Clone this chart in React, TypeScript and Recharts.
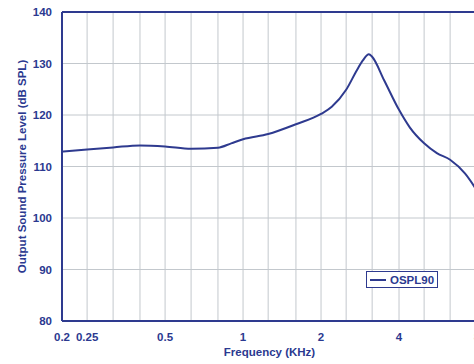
import {
  CartesianGrid,
  Legend,
  Line,
  LineChart,
  ReferenceLine,
  XAxis,
  YAxis,
} from "recharts";

// frequency in kHz
const freqs = [
  0.2, 0.25, 0.315, 0.4, 0.5, 0.63, 0.8, 0.9, 1, 1.25, 1.6, 2, 2.2, 2.5, 2.75,
  2.9, 3.06, 3.15, 3.5, 4, 4.4, 5, 5.6, 6.3, 7.2, 8,
];
// output level, dB SPL
const ospl90 = [
  112.9, 113.3, 113.7, 114.1, 113.9, 113.45, 113.65, 114.5, 115.3, 116.3, 118.2,
  120.2, 121.6, 124.9, 128.7, 130.6, 131.8, 131.3, 126.8, 121.0, 117.6, 114.5,
  112.6, 111.3, 108.6, 105.3,
];

// third-octave grid, only some of them labelled
const gridTicks = [
  0.2, 0.25, 0.315, 0.4, 0.5, 0.63, 0.8, 1, 1.25, 1.6, 2, 2.5, 3.15, 4, 5, 6.3,
  8,
];
const labelledTicks = [0.2, 0.25, 0.5, 1, 2, 4, 8];
const yTicks = [80, 90, 100, 110, 120, 130, 140];

const data = freqs.map((f, i) => ({ f, ospl: ospl90[i] }));

const BLUE = "#2E3A8F";
const TEXT = "#2B3990";
const GRID = "#C3C8CD";
const FONT = "'Liberation Sans', Arial, sans-serif";
const FS = 11.5;

const LegendBox = () => (
  <div
    style={{
      display: "flex",
      alignItems: "center",
      height: "100%",
      boxSizing: "border-box",
      border: `1px solid ${BLUE}`,
      background: "#fff",
      paddingLeft: 3,
      fontFamily: FONT,
      fontWeight: "bold",
      fontSize: FS,
      color: TEXT,
    }}
  >
    <svg width={16} height={4} style={{ marginRight: 4 }}>
      <line x1={0} y1={2} x2={16} y2={2} stroke={BLUE} strokeWidth={2} />
    </svg>
    OSPL90
  </div>
);

export default function App() {
  return (
    <div
      style={{
        position: "fixed",
        left: 0,
        top: 0,
        width: 474,
        height: 364,
        overflow: "hidden",
        background: "#fff",
      }}
    >
      <LineChart
        width={500}
        height={364}
        data={data}
        margin={{ top: 12, right: 23, left: 0, bottom: 0 }}
      >
        <CartesianGrid stroke={GRID} strokeWidth={1} />
        <XAxis
          dataKey="f"
          type="number"
          scale="log"
          domain={[0.2, 8]}
          ticks={gridTicks}
          interval={0}
          tickFormatter={(v: number) =>
            labelledTicks.includes(v) ? String(v) : ""
          }
          tickLine={false}
          tickMargin={6}
          height={43}
          axisLine={{ stroke: BLUE, strokeWidth: 2 }}
          tick={{ fill: TEXT, fontSize: FS, fontWeight: "bold", fontFamily: FONT }}
          allowDataOverflow
          label={{
            value: "Frequency (KHz)",
            position: "insideBottom",
            offset: 8,
            fill: TEXT,
            fontSize: FS,
            fontWeight: "bold",
            fontFamily: FONT,
          }}
        />
        <YAxis
          type="number"
          domain={[80, 140]}
          ticks={yTicks}
          interval={0}
          width={62}
          tickLine={false}
          tickMargin={4}
          axisLine={{ stroke: BLUE, strokeWidth: 2 }}
          tick={{ fill: TEXT, fontSize: FS, fontWeight: "bold", fontFamily: FONT }}
          label={{
            value: "Output Sound Pressure Level (dB SPL)",
            angle: -90,
            position: "insideLeft",
            offset: 22,
            fill: TEXT,
            fontSize: FS,
            fontWeight: "bold",
            fontFamily: FONT,
            style: { textAnchor: "middle" },
          }}
        />
        <ReferenceLine y={140} stroke={BLUE} strokeWidth={2} />
        <Legend
          layout="horizontal"
          align="center"
          verticalAlign="middle"
          content={<LegendBox />}
          wrapperStyle={{ left: 366, top: 271, width: 72, height: 17 }}
        />
        <Line
          dataKey="ospl"
          type="monotone"
          stroke={BLUE}
          strokeWidth={2}
          dot={false}
          isAnimationActive={false}
        />
      </LineChart>
    </div>
  );
}
